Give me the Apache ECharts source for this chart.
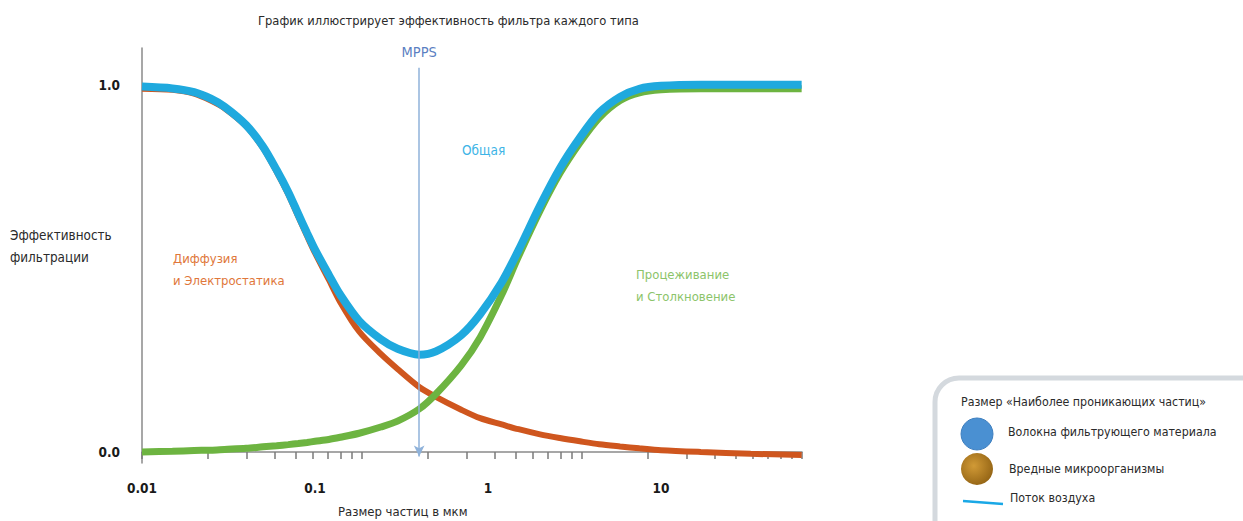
<!DOCTYPE html>
<html>
<head>
<meta charset="utf-8">
<script src="https://cdn.jsdelivr.net/npm/echarts@6/dist/echarts.min.js"></script>
<style>html,body{margin:0;padding:0;background:#fff}#c{width:1243px;height:521px}</style>
</head>
<body>
<div id="c"></div>
<script>
// Particle sizes (µm)
const sizes = [0.01, 0.015, 0.02, 0.025, 0.03, 0.04, 0.05, 0.06, 0.07, 0.08, 0.09, 0.1, 0.12, 0.14, 0.18, 0.24, 0.3, 0.4, 0.5, 0.7, 0.9, 1.2, 1.5, 2, 2.6, 3.4, 4.4, 5.8, 7.5, 10, 17, 33, 65];
// Total efficiency ("Общая")
const total = [0.995, 0.990, 0.980, 0.962, 0.940, 0.890, 0.832, 0.768, 0.708, 0.648, 0.596, 0.551, 0.483, 0.428, 0.357, 0.307, 0.281, 0.265, 0.274, 0.318, 0.375, 0.462, 0.549, 0.671, 0.772, 0.856, 0.924, 0.967, 0.989, 0.997, 1.0, 1.0, 1.0];
// Diffusion & electrostatics
const diffusion = [0.989, 0.986, 0.976, 0.957, 0.936, 0.887, 0.828, 0.763, 0.702, 0.641, 0.588, 0.542, 0.470, 0.408, 0.328, 0.267, 0.226, 0.177, 0.150, 0.115, 0.092, 0.075, 0.062, 0.048, 0.038, 0.029, 0.021, 0.015, 0.010, 0.005, 0.0, -0.005, -0.008];
// Sieving & impaction
const sieving = [0.0, 0.002, 0.004, 0.005, 0.007, 0.010, 0.014, 0.017, 0.020, 0.023, 0.026, 0.029, 0.034, 0.040, 0.051, 0.068, 0.084, 0.117, 0.158, 0.236, 0.312, 0.428, 0.532, 0.657, 0.758, 0.842, 0.910, 0.957, 0.978, 0.986, 0.989, 0.989, 0.989];
// MPPS position
const mpps = 0.4;
const mppsRange = [1.046, -0.012];
// Axis labels / ticks
const xLabels = [0.01, 0.1, 1, 10];
const xTicks = [0.01,0.02,0.03,0.04,0.05,0.06,0.07,0.08,0.09,0.1,0.2,0.3,0.4,0.5,0.6,0.7,0.8,0.9,1,2,3,4,5,6,7,8,9,10];
const yLabels = [0, 1];

const FONT = '"Liberation Sans Narrow", "DejaVu Sans Condensed", "Roboto Condensed", Roboto, sans-serif';
const pair = arr => sizes.map((s, i) => [s, arr[i]]);
const txt = (x, y, text, size, fill, extra) => ({type: 'text', x: x, y: y,
  style: Object.assign({text: text, font: size + 'px ' + FONT, fill: fill, verticalAlign: 'middle', align: 'left'}, extra || {})});

const chart = echarts.init(document.getElementById('c'), null, {renderer: 'svg'});
chart.setOption({
  animation: false,
  textStyle: {fontFamily: FONT},
  grid: {left: 142, right: 441, top: 48, bottom: 58, containLabel: false},
  xAxis: [
    {type: 'log', logBase: 10, min: 0.01, max: 10, position: 'bottom',
     axisLine: {show: true, lineStyle: {color: '#8a8a8a', width: 1.5}},
     axisTick: {show: true, length: 7, lineStyle: {color: '#7a7a7a', width: 1.5}, customValues: xTicks},
     axisLabel: {show: false}, splitLine: {show: false}, minorTick: {show: false}},
    {type: 'log', logBase: 10, min: 0.01, max: 65.3, position: 'bottom',
     axisLine: {show: false}, axisTick: {show: false}, splitLine: {show: false},
     axisLabel: {show: true, customValues: xLabels, margin: 18, fontFamily: FONT, fontSize: 13.5, fontWeight: 'bold', color: '#1a1a1a',
       formatter: v => String(+v.toPrecision(3))}}
  ],
  yAxis: {type: 'value', min: -0.03, max: 1.1,
    axisLine: {show: true, lineStyle: {color: '#8a8a8a', width: 1.5}},
    axisTick: {show: false}, splitLine: {show: false},
    axisLabel: {show: true, customValues: yLabels, margin: 22, fontFamily: FONT, fontSize: 13.5, fontWeight: 'bold', color: '#1a1a1a',
      formatter: v => (+v).toFixed(1)}},
  series: [
    {name: 'Диффузия и Электростатика', type: 'line', xAxisIndex: 1, data: pair(diffusion), smooth: 0.3, symbol: 'none',
     lineStyle: {color: '#cf561e', width: 6}, z: 2},
    {name: 'Процеживание и Столкновение', type: 'line', xAxisIndex: 1, data: pair(sieving), smooth: 0.3, symbol: 'none',
     lineStyle: {color: '#6db441', width: 7}, z: 3},
    {name: 'Общая', type: 'line', xAxisIndex: 1, data: pair(total), smooth: 0.3, symbol: 'none',
     lineStyle: {color: '#1fa9de', width: 8}, z: 4,
     markLine: {silent: true, symbol: ['none', 'arrow'], symbolSize: [8, 11],
       lineStyle: {color: '#8fb2da', width: 1.5, type: 'solid'},
       label: {show: true, position: 'start', distance: 8, formatter: 'MPPS', color: '#5b7fc2', fontFamily: FONT, fontSize: 14.5},
       data: [[{coord: [mpps, mppsRange[0]]}, {coord: [mpps, mppsRange[1]]}]]}}
  ],
  graphic: [
    txt(258, 20, 'График иллюстрирует эффективность фильтра каждого типа', 12.8, '#2a2a2a'),
    txt(462, 150, 'Общая', 13.5, '#3db4e6'),
    txt(173, 269, 'Диффузия\nи Электростатика', 13, '#e0773a', {lineHeight: 22}),
    txt(636, 285, 'Процеживание\nи Столкновение', 13, '#8cc46a', {lineHeight: 22}),
    txt(10, 246, 'Эффективность\nфильтрации', 13.4, '#2a2a2a', {lineHeight: 22}),
    txt(338, 511, 'Размер частиц в мкм', 13, '#2a2a2a'),
    {type: 'rect', shape: {x: 935, y: 378, width: 340, height: 180, r: 24}, style: {fill: '#fff', stroke: '#d4d9de', lineWidth: 5}},
    txt(961, 402, 'Размер «Наиболее проникающих частиц»', 12.3, '#2a2a2a'),
    {type: 'circle', shape: {cx: 977, cy: 434, r: 16}, style: {fill: '#4a90d2', stroke: '#3f80c0', lineWidth: 1}},
    txt(1008, 432, 'Волокна фильтрующего материала', 12.3, '#2a2a2a'),
    {type: 'circle', shape: {cx: 977, cy: 469, r: 16}, style: {fill: new echarts.graphic.RadialGradient(0.4, 0.4, 0.7, [{offset: 0, color: '#d19a36'}, {offset: 1, color: '#8f6012'}])}},
    txt(1009, 469, 'Вредные микроорганизмы', 12.3, '#2a2a2a'),
    {type: 'line', shape: {x1: 963, y1: 501, x2: 1003, y2: 504}, style: {stroke: '#1aa8e6', lineWidth: 2.5}},
    txt(1010, 498, 'Поток воздуха', 12.3, '#2a2a2a')
  ]
});
</script>
</body>
</html>
